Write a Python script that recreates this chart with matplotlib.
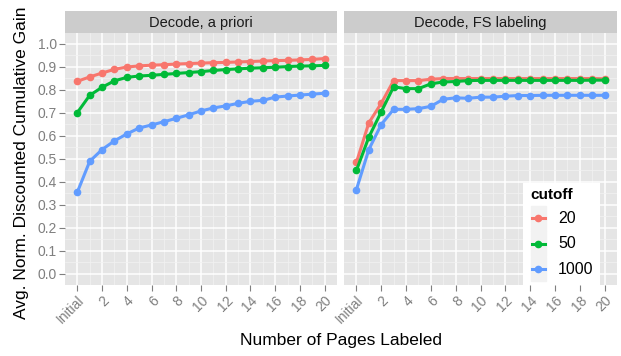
import numpy as np
import matplotlib
matplotlib.use("Agg")
import matplotlib.pyplot as plt
from matplotlib.patches import Rectangle
from matplotlib.lines import Line2D

plt.rcParams['font.family'] = ['Liberation Sans', 'DejaVu Sans']

pages = list(range(21))
tick_pos = [0, 2, 4, 6, 8, 10, 12, 14, 16, 18, 20]
tick_labels = ['Initial', '2', '4', '6', '8', '10', '12', '14', '16', '18', '20']

panels = ["Decode, a priori", "Decode, FS labeling"]
cutoffs = ['20', '50', '1000']
colors = ['#F8766D', '#00BA38', '#619CFF']

# Decode, a priori
apriori_20 = [0.836, 0.855, 0.872, 0.888, 0.898, 0.903, 0.906, 0.908, 0.911, 0.913, 0.915,
              0.917, 0.918, 0.920, 0.922, 0.924, 0.926, 0.927, 0.929, 0.931, 0.935]
apriori_50 = [0.700, 0.775, 0.810, 0.838, 0.853, 0.859, 0.862, 0.866, 0.870, 0.874, 0.878,
              0.883, 0.887, 0.890, 0.893, 0.895, 0.897, 0.900, 0.902, 0.903, 0.905]
apriori_1000 = [0.354, 0.488, 0.539, 0.577, 0.607, 0.633, 0.646, 0.660, 0.675, 0.690, 0.707,
                0.720, 0.729, 0.740, 0.749, 0.753, 0.767, 0.772, 0.776, 0.780, 0.784]

# Decode, FS labeling
fs_20 = [0.483, 0.655, 0.740, 0.839, 0.839, 0.839, 0.845, 0.848, 0.848, 0.848, 0.848,
         0.848, 0.848, 0.848, 0.848, 0.848, 0.848, 0.848, 0.848, 0.848, 0.847]
fs_50 = [0.448, 0.593, 0.703, 0.812, 0.804, 0.804, 0.825, 0.833, 0.835, 0.839, 0.840,
         0.840, 0.840, 0.840, 0.840, 0.840, 0.840, 0.840, 0.840, 0.841, 0.841]
fs_1000 = [0.365, 0.539, 0.648, 0.714, 0.714, 0.717, 0.727, 0.758, 0.764, 0.762, 0.767,
           0.767, 0.771, 0.774, 0.774, 0.775, 0.775, 0.775, 0.775, 0.775, 0.775]

series = [[apriori_20, apriori_50, apriori_1000], [fs_20, fs_50, fs_1000]]

W, H = 621, 356
fig = plt.figure(figsize=(W / 100, H / 100), dpi=100)

def fbox(x0, y0, x1, y1):
    # pixel box (top-left origin) -> figure fraction rect
    return [x0 / W, 1 - y1 / H, (x1 - x0) / W, (y1 - y0) / H]

panel_x = [(65, 337), (344, 617)]
for i, (x0, x1) in enumerate(panel_x):
    ax = fig.add_axes(fbox(x0, 33, x1, 285))
    ax.set_facecolor('#E5E5E5')
    for s in ax.spines.values():
        s.set_visible(False)
    ax.set_xlim(-1, 21)
    ax.set_ylim(-0.05, 1.046)
    ax.set_xticks(tick_pos)
    ax.set_xticks(np.arange(1, 21, 2), minor=True)
    ax.set_yticks(np.arange(0, 1.01, 0.1))
    ax.set_yticks(np.arange(0.05, 1.05, 0.1), minor=True)
    ax.grid(which='major', color='white', lw=1.1)
    ax.grid(which='minor', color='#F2F2F2', lw=0.5)
    ax.set_axisbelow(True)
    ax.tick_params(which='minor', length=0)
    ax.tick_params(which='major', length=4, color='#7F7F7F', width=0.8,
                   labelcolor='#7F7F7F', labelsize=10, pad=2)
    ax.set_xticklabels(tick_labels, rotation=45, ha='right', va='top',
                       rotation_mode='anchor')
    if i == 0:
        ax.set_yticklabels(['%.1f' % v for v in np.arange(0, 1.01, 0.1)])
    else:
        ax.tick_params(axis='y', length=0, labelleft=False)
    for vals, c in zip(series[i], colors):
        ax.plot(pages, vals, color=c, lw=2.2, marker='o', ms=4.5, mec=c, zorder=3)

    sax = fig.add_axes(fbox(x0, 11, x1, 33))
    sax.set_facecolor('#CCCCCC')
    sax.set_xticks([])
    sax.set_yticks([])
    for s in sax.spines.values():
        s.set_visible(False)
    sax.text(0.5, 0.45, panels[i], ha='center', va='center', fontsize=10.5,
             color='#1A1A1A', transform=sax.transAxes)

# legend
lax = fig.add_axes(fbox(523, 183, 600, 285))
lax.set_xlim(523, 600)
lax.set_ylim(285, 183)
lax.axis('off')
lax.add_patch(Rectangle((523, 183), 77, 102, color='white', zorder=0))
lax.text(530, 195, 'cutoff', fontsize=11, fontweight='bold', va='center', ha='left')
for k, (lab, c) in enumerate(zip(cutoffs, colors)):
    y0 = 206 + k * 25.3
    lax.add_patch(Rectangle((531, y0), 15, 24.5, color='#F2F2F2', zorder=1))
    lax.add_line(Line2D([532, 545], [y0 + 12.3, y0 + 12.3], color=c, lw=2.2, zorder=2))
    lax.plot([538.5], [y0 + 12.3], 'o', color=c, ms=4.5, zorder=3)
    lax.text(558, y0 + 12.5, lab, fontsize=11.5, va='center', ha='left')

fig.text(341 / W, 1 - 340 / H, 'Number of Pages Labeled', ha='center', va='center', fontsize=12.5)
fig.text(22 / W, 1 - 163 / H, 'Avg. Norm. Discounted Cumulative Gain', ha='center', va='center',
         rotation=90, fontsize=12.5)

fig.savefig('out.png', dpi=100)
